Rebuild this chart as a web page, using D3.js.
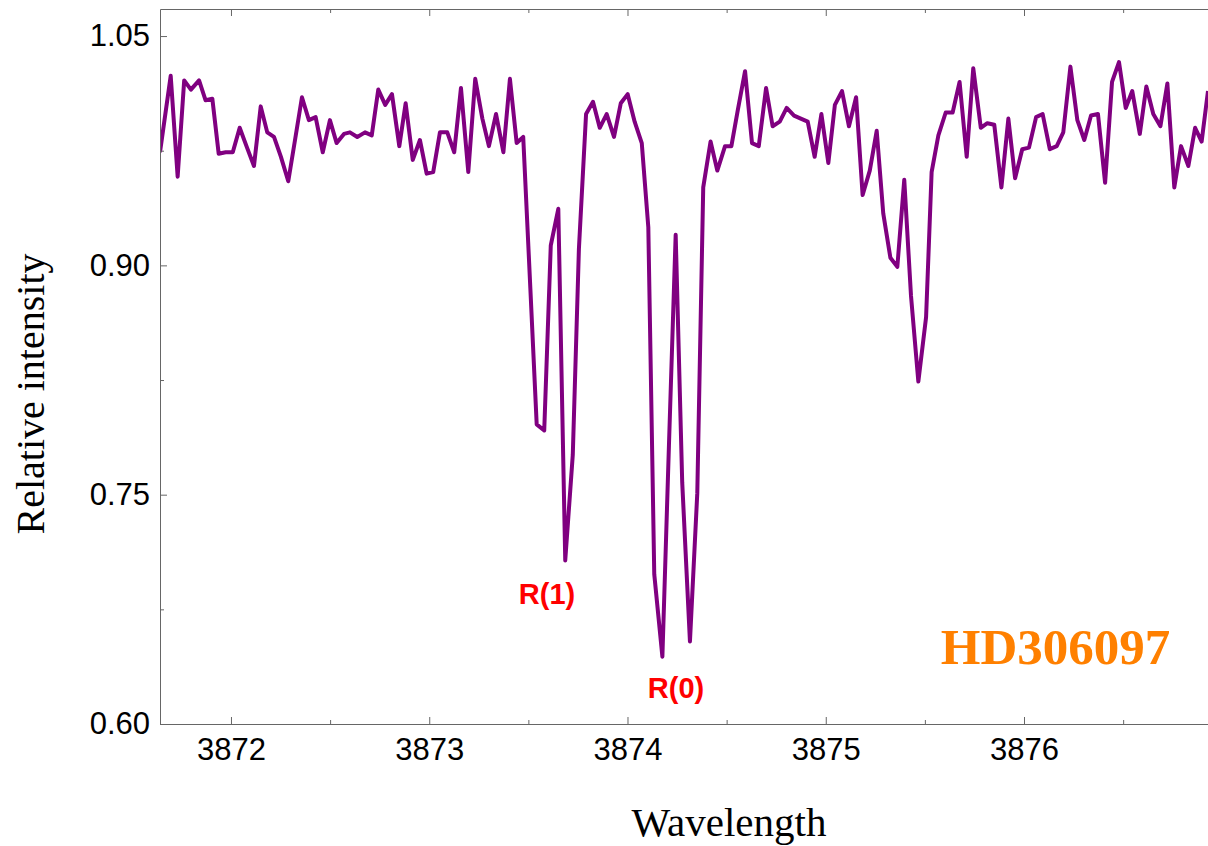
<!DOCTYPE html>
<html>
<head>
<meta charset="utf-8">
<script src="https://cdn.jsdelivr.net/npm/d3@7"></script>
<style>
  html, body { margin: 0; padding: 0; background: #fff; }
  svg { display: block; }
</style>
</head>
<body>
<svg id="chart" width="1208" height="846"></svg>
<script>
// CN absorption spectrum: wavelength (Å) and normalised flux
const wavelength = [
  3871.642, 3871.696, 3871.731, 3871.764, 3871.798, 3871.839, 3871.872, 3871.906, 3871.938, 3871.973,
  3872.009, 3872.044, 3872.081, 3872.116, 3872.150, 3872.183, 3872.217, 3872.252, 3872.289, 3872.323,
  3872.358, 3872.393, 3872.427, 3872.463, 3872.499, 3872.533, 3872.570, 3872.600, 3872.637, 3872.676,
  3872.710, 3872.743, 3872.778, 3872.812, 3872.849, 3872.881, 3872.917, 3872.953, 3872.987, 3873.020,
  3873.054, 3873.091, 3873.126, 3873.160, 3873.197, 3873.232, 3873.268, 3873.301, 3873.337, 3873.374,
  3873.407, 3873.441, 3873.474, 3873.510, 3873.542, 3873.580, 3873.613, 3873.651, 3873.686, 3873.724,
  3873.755, 3873.791, 3873.826, 3873.860, 3873.895, 3873.932, 3873.966, 3874.001, 3874.036, 3874.072,
  3874.105, 3874.135, 3874.176, 3874.209, 3874.243, 3874.276, 3874.315, 3874.352, 3874.382, 3874.419,
  3874.453, 3874.492, 3874.524, 3874.557, 3874.593, 3874.628, 3874.662, 3874.699, 3874.732, 3874.768,
  3874.803, 3874.840, 3874.874, 3874.909, 3874.944, 3874.978, 3875.013, 3875.046, 3875.082, 3875.117,
  3875.153, 3875.186, 3875.222, 3875.257, 3875.290, 3875.326, 3875.361, 3875.396, 3875.430, 3875.467,
  3875.506, 3875.534, 3875.568, 3875.605, 3875.640, 3875.675, 3875.711, 3875.744, 3875.782, 3875.815,
  3875.850, 3875.886, 3875.921, 3875.955, 3875.991, 3876.025, 3876.061, 3876.094, 3876.130, 3876.165,
  3876.198, 3876.234, 3876.269, 3876.304, 3876.338, 3876.373, 3876.409, 3876.444, 3876.479, 3876.513,
  3876.546, 3876.584, 3876.617, 3876.652, 3876.688, 3876.723, 3876.758, 3876.792, 3876.829, 3876.863,
  3876.896, 3876.928
];

const intensity = [
  0.974, 1.024, 0.958, 1.021, 1.015, 1.021, 1.008, 1.009, 0.973, 0.974,
  0.974, 0.990, 0.977, 0.965, 1.004, 0.987, 0.984, 0.971, 0.955, 0.982,
  1.010, 0.995, 0.997, 0.974, 0.995, 0.980, 0.986, 0.987, 0.984, 0.987,
  0.985, 1.015, 1.005, 1.012, 0.978, 1.006, 0.969, 0.982, 0.960, 0.961,
  0.987, 0.987, 0.974, 1.016, 0.961, 1.022, 0.996, 0.978, 0.999, 0.974,
  1.022, 0.980, 0.984, 0.885, 0.796, 0.792, 0.913, 0.937, 0.707, 0.776,
  0.911, 0.999, 1.007, 0.990, 0.999, 0.984, 1.006, 1.012, 0.994, 0.980,
  0.925, 0.698, 0.644, 0.782, 0.920, 0.758, 0.654, 0.751, 0.951, 0.981,
  0.962, 0.978, 0.978, 1.002, 1.027, 0.980, 0.978, 1.016, 0.991, 0.994,
  1.003, 0.998, 0.996, 0.994, 0.971, 0.999, 0.967, 1.005, 1.014, 0.991,
  1.010, 0.946, 0.962, 0.988, 0.934, 0.905, 0.899, 0.956, 0.880, 0.824,
  0.866, 0.961, 0.985, 1.000, 1.000, 1.020, 0.971, 1.029, 0.990, 0.993,
  0.992, 0.951, 0.996, 0.957, 0.976, 0.977, 0.997, 0.999, 0.976, 0.978,
  0.987, 1.030, 0.995, 0.982, 0.998, 0.999, 0.954, 1.020, 1.033, 1.003,
  1.014, 0.986, 1.017, 0.999, 0.991, 1.019, 0.951, 0.978, 0.965, 0.990,
  0.981, 1.014
];

// Axis ticks
const xMajorTicks = [3872, 3873, 3874, 3875, 3876];
const xMinorTicks = [3872.5, 3873.5, 3874.5, 3875.5, 3876.5];
const yMajorTicks = [0.60, 0.75, 0.90, 1.05];
const yMinorTicks = [0.675, 0.825, 0.975];

// Line labels: R-branch lines and the star name
const lineLabels = ["R(1)", "R(0)"];
const starName = "HD306097";

const svg = d3.select("#chart");

const plot = { left: 160, right: 1208, top: 9, bottom: 724 };

const x = d3.scaleLinear()
  .domain([3871.642, 3876.928])
  .range([plot.left, plot.right]);

const y = d3.scaleLinear()
  .domain([0.6, 1.0677])
  .range([plot.bottom, plot.top]);

const frameColor = "#666";
const tickFont = "'Liberation Sans', Arial, Helvetica, sans-serif";
const serifFont = "'Liberation Serif', 'Times New Roman', Times, serif";

// Clip the spectrum to the frame
svg.append("defs").append("clipPath").attr("id", "plot-clip")
  .append("rect")
  .attr("x", plot.left).attr("y", plot.top)
  .attr("width", plot.right - plot.left)
  .attr("height", plot.bottom - plot.top);

const points = wavelength.map((w, i) => [w, intensity[i]]);

svg.append("path")
  .datum(points)
  .attr("clip-path", "url(#plot-clip)")
  .attr("fill", "none")
  .attr("stroke", "#800080")
  .attr("stroke-width", 4)
  .attr("stroke-linejoin", "round")
  .attr("d", d3.line().x(d => x(d[0])).y(d => y(d[1])));

function styleAxis(g) {
  g.selectAll(".domain").attr("stroke", frameColor).attr("stroke-width", 1);
  g.selectAll(".tick line").attr("stroke", frameColor).attr("stroke-width", 1);
  g.selectAll(".tick text")
    .attr("fill", "#000")
    .style("font-family", tickFont)
    .style("font-size", "31px");
}

// Bottom frame edge with labels
svg.append("g")
  .attr("transform", `translate(0,${plot.bottom})`)
  .call(d3.axisBottom(x).tickValues(xMajorTicks).tickFormat(d3.format("d"))
    .tickSizeInner(-7).tickSizeOuter(0).tickPadding(14))
  .call(styleAxis);

svg.append("g")
  .attr("transform", `translate(0,${plot.bottom})`)
  .call(d3.axisBottom(x).tickValues(xMinorTicks).tickFormat("")
    .tickSizeInner(-4).tickSizeOuter(0))
  .call(g => g.select(".domain").remove())
  .call(styleAxis);

// Top frame edge, ticks only
svg.append("g")
  .attr("transform", `translate(0,${plot.top})`)
  .call(d3.axisTop(x).tickValues(xMajorTicks).tickFormat("")
    .tickSizeInner(-7).tickSizeOuter(0))
  .call(styleAxis);

svg.append("g")
  .attr("transform", `translate(0,${plot.top})`)
  .call(d3.axisTop(x).tickValues(xMinorTicks).tickFormat("")
    .tickSizeInner(-4).tickSizeOuter(0))
  .call(g => g.select(".domain").remove())
  .call(styleAxis);

// Left frame edge with labels
svg.append("g")
  .attr("transform", `translate(${plot.left},0)`)
  .call(d3.axisLeft(y).tickValues(yMajorTicks).tickFormat(d3.format(".2f"))
    .tickSizeInner(-7).tickSizeOuter(0).tickPadding(10))
  .call(styleAxis);

svg.append("g")
  .attr("transform", `translate(${plot.left},0)`)
  .call(d3.axisLeft(y).tickValues(yMinorTicks).tickFormat("")
    .tickSizeInner(-4).tickSizeOuter(0))
  .call(g => g.select(".domain").remove())
  .call(styleAxis);

// Axis titles
svg.append("text")
  .attr("x", 729)
  .attr("y", 836)
  .attr("text-anchor", "middle")
  .style("font-family", serifFont)
  .style("font-size", "41px")
  .attr("fill", "#000")
  .text("Wavelength");

svg.append("text")
  .attr("transform", "translate(44,394) rotate(-90)")
  .attr("text-anchor", "middle")
  .style("font-family", serifFont)
  .style("font-size", "40px")
  .attr("fill", "#000")
  .text("Relative intensity");

// Line identifications below the absorption minima
const labelPos = [
  { wl: 3873.594, flux: 0.6785 },
  { wl: 3874.245, flux: 0.617 }
];
svg.append("g").selectAll("text")
  .data(lineLabels)
  .join("text")
  .attr("x", (d, i) => x(labelPos[i].wl))
  .attr("y", (d, i) => y(labelPos[i].flux))
  .attr("text-anchor", "middle")
  .style("font-family", tickFont)
  .style("font-weight", "bold")
  .style("font-size", "29px")
  .attr("fill", "#ff0000")
  .text(d => d);

// Star identifier
svg.append("text")
  .attr("x", x(3875.580))
  .attr("y", y(0.6392))
  .attr("text-anchor", "start")
  .style("font-family", serifFont)
  .style("font-weight", "bold")
  .style("font-size", "51px")
  .attr("fill", "#ff8000")
  .text(starName);
</script>
</body>
</html>
